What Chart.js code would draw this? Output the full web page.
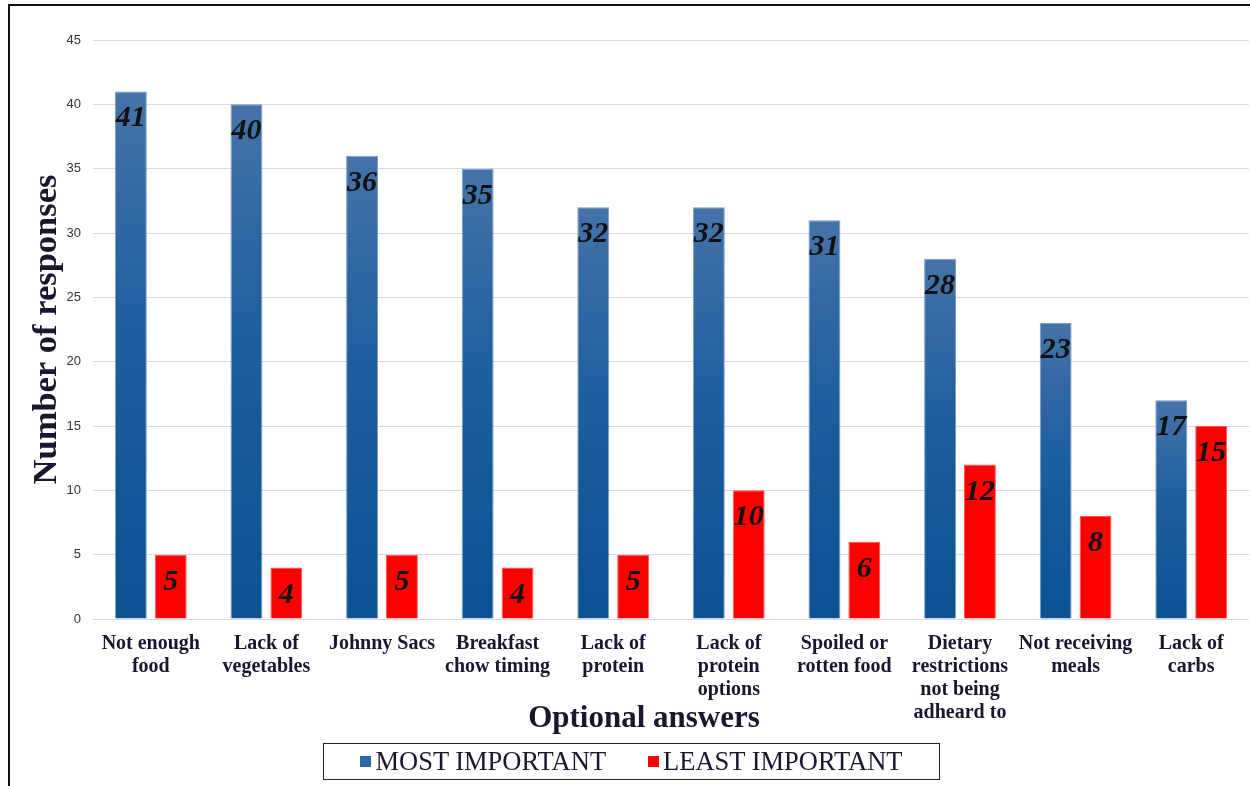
<!DOCTYPE html>
<html>
<head>
<meta charset="utf-8">
<title>Food service issues</title>
<script src="https://cdn.jsdelivr.net/npm/chart.js@4/dist/chart.umd.min.js"></script>
<style>
  html, body { margin: 0; padding: 0; background: #fff; }
  .frame { position: relative; width: 1250px; height: 786px; overflow: hidden; }
  .frame-edge {
    position: absolute; left: 8px; top: 4px; width: 1400px; height: 900px;
    border-top: 2px solid #111; border-left: 2px solid #111;
  }
  #chart { position: absolute; left: 0; top: 0; }
  .legend {
    position: absolute; left: 323px; top: 743px; width: 615px; height: 35px;
    border: 1.5px solid #222; display: flex; align-items: center; justify-content: center;
    font: 26.5px "Liberation Serif", "Times New Roman", serif; color: #1b1530;
  }
  .legend span.item { display: flex; align-items: center; margin: 0 21px; }
  .legend i { display: inline-block; width: 11px; height: 11px; margin-right: 4px; }
</style>
</head>
<body>
<div class="frame">
  <div class="frame-edge"></div>
  <canvas id="chart" width="1250" height="786"></canvas>
  <div class="legend" id="legend"></div>
</div>
<script>
const categories = [
  ['Not enough', 'food'],
  ['Lack of', 'vegetables'],
  ['Johnny Sacs'],
  ['Breakfast', 'chow timing'],
  ['Lack of', 'protein'],
  ['Lack of', 'protein', 'options'],
  ['Spoiled or', 'rotten food'],
  ['Dietary', 'restrictions', 'not being', 'adheard to'],
  ['Not receiving', 'meals'],
  ['Lack of', 'carbs']
];
const mostImportant = [41, 40, 36, 35, 32, 32, 31, 28, 23, 17];
const leastImportant = [5, 4, 5, 4, 5, 10, 6, 12, 8, 15];
const yTicks = [0, 5, 10, 15, 20, 25, 30, 35, 40, 45];

const inkColor = '#1b1530';
const serif = '"Liberation Serif", "Times New Roman", serif';

// blue bars fade from a lighter top to a deeper base
const blueFill = (ctx) => {
  const chart = ctx.chart;
  if (ctx.type !== 'data' || !chart.chartArea) return '#2d67a6';
  const y = chart.scales.y;
  const top = y.getPixelForValue(ctx.raw);
  const base = y.getPixelForValue(0);
  const g = chart.ctx.createLinearGradient(0, top, 0, base);
  g.addColorStop(0, '#4573a9');
  g.addColorStop(0.45, '#1d5e9e');
  g.addColorStop(1, '#0a5292');
  return g;
};

// value printed inside the top of each bar
const valueLabels = {
  id: 'valueLabels',
  afterDatasetsDraw(chart) {
    const { ctx } = chart;
    ctx.save();
    ctx.font = 'italic bold 30px ' + serif;
    ctx.fillStyle = '#111';
    ctx.textAlign = 'center';
    ctx.textBaseline = 'alphabetic';
    chart.data.datasets.forEach((ds, i) => {
      chart.getDatasetMeta(i).data.forEach((bar, j) => {
        ctx.fillText(String(ds.data[j]), bar.x, bar.y + 35);
      });
    });
    ctx.restore();
  }
};

// x axis caption sits a little left of the plot centre
const xCaption = {
  id: 'xCaption',
  afterDraw(chart) {
    const { ctx } = chart;
    ctx.save();
    ctx.font = 'bold 31px ' + serif;
    ctx.fillStyle = inkColor;
    ctx.textAlign = 'center';
    ctx.textBaseline = 'alphabetic';
    ctx.fillText('Optional answers', 644, 727);
    ctx.restore();
  }
};

const chart = new Chart(document.getElementById('chart'), {
  type: 'bar',
  data: {
    labels: categories,
    datasets: [
      {
        label: 'MOST IMPORTANT',
        data: mostImportant,
        backgroundColor: blueFill,
        borderColor: 'rgba(110, 145, 195, 0.9)',
        borderWidth: 1,
        legendColor: '#2d67a6'
      },
      {
        label: 'LEAST IMPORTANT',
        data: leastImportant,
        backgroundColor: '#ff0000',
        borderColor: '#ff5a5a',
        borderWidth: 1,
        legendColor: '#ff0000'
      }
    ]
  },
  options: {
    responsive: false,
    animation: false,
    layout: { padding: { top: 40, right: 1, bottom: 0, left: 0 } },
    datasets: { bar: { categoryPercentage: 0.69, barPercentage: 0.8 } },
    plugins: { legend: { display: false }, tooltip: { enabled: false } },
    scales: {
      x: {
        grid: { display: false },
        border: { display: false },
        ticks: {
          color: inkColor,
          padding: 5,
          maxRotation: 0,
          autoSkip: false,
          font: { family: serif, size: 20, weight: 'bold', lineHeight: '23px' }
        },
        afterFit: (scale) => { scale.height = 167; }
      },
      y: {
        min: 0,
        max: 45,
        afterBuildTicks: (scale) => { scale.ticks = yTicks.map((v) => ({ value: v })); },
        grid: { color: '#ddd4ea', lineWidth: 1, drawTicks: false },
        border: { display: false },
        ticks: {
          color: '#333',
          padding: 12,
          font: { family: '"Liberation Sans", Arial, sans-serif', size: 13 }
        },
        title: {
          display: true,
          text: 'Number of responses',
          color: inkColor,
          padding: { top: 26, bottom: 0 },
          font: { family: serif, size: 34.5, weight: 'bold', lineHeight: 1.2 }
        },
        afterFit: (scale) => { scale.width = 93; }
      }
    }
  },
  plugins: [valueLabels, xCaption]
});

document.getElementById('legend').innerHTML = chart.data.datasets
  .map((ds) => `<span class="item"><i style="background:${ds.legendColor}"></i>${ds.label}</span>`)
  .join('');
</script>
</body>
</html>
